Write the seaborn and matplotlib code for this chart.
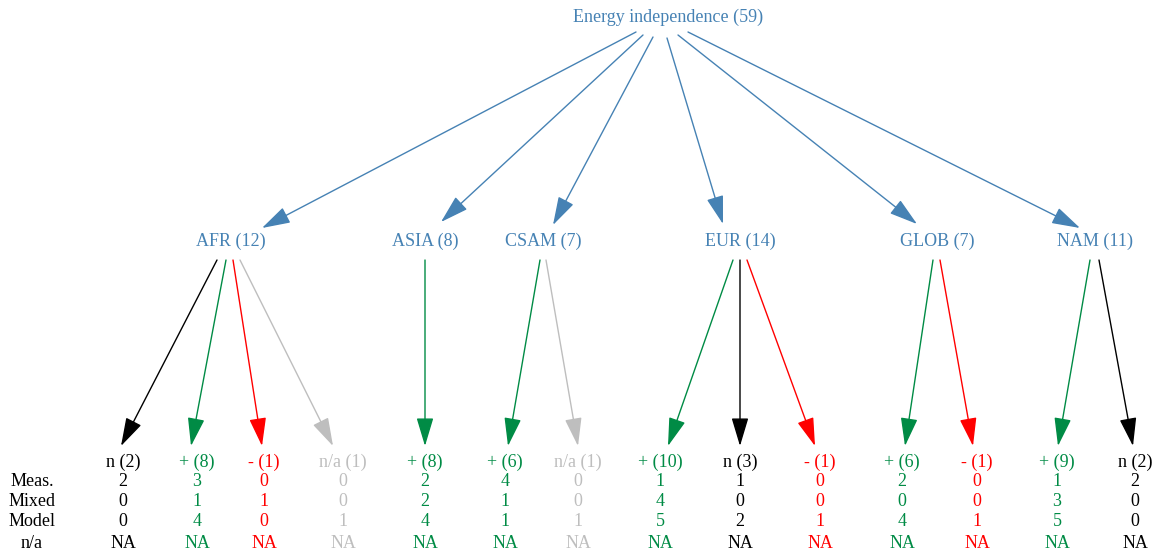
import matplotlib
matplotlib.use("Agg")
import matplotlib.pyplot as plt
import seaborn as sns
import pandas as pd

# ---------------- data ----------------
root_label = "Energy independence"
root_count = 59
regions = ["AFR", "ASIA", "CSAM", "EUR", "GLOB", "NAM"]
region_counts = [12, 8, 7, 14, 7, 11]

leaf_region = ["AFR", "AFR", "AFR", "AFR", "ASIA", "CSAM", "CSAM",
               "EUR", "EUR", "EUR", "GLOB", "GLOB", "NAM", "NAM"]
leaf_sign = ["n", "+", "-", "n/a", "+", "+", "n/a",
             "+", "n", "-", "+", "-", "+", "n"]
leaf_counts = [2, 8, 1, 1, 8, 6, 1, 10, 3, 1, 6, 1, 9, 2]
meas = [2, 3, 0, 0, 2, 4, 0, 1, 1, 0, 2, 0, 1, 2]
mixed = [0, 1, 1, 0, 2, 1, 0, 4, 0, 0, 0, 0, 3, 0]
model = [0, 4, 0, 1, 4, 1, 1, 5, 2, 1, 4, 1, 5, 0]
na_row = ["NA"] * 14
row_labels = ["Meas.", "Mixed", "Model", "n/a"]

# ---------------- layout / style ----------------
W, H = 1155, 559
root_xy = (668, 17)
region_x = [231, 425, 543, 740, 937, 1095]
region_y = 241
leaf_x = [123, 197, 264, 343, 425, 505, 578, 660, 740, 820, 902, 977, 1057, 1135]
leaf_y = 462
row_y = [481, 501, 521, 544]
row_label_x = 32

root_starts = [(636, 32), (643, 35), (653, 37), (667, 38), (678, 35), (688, 32)]
root_ends = [(262, 228), (441, 222), (553, 225), (723, 224), (917, 224), (1080, 228)]
leaf_start_x = [217, 226, 233, 240, 425, 540, 546, 733, 740, 747, 933, 940, 1090, 1099]
leaf_end_x = [121, 191, 262, 333, 425, 508, 578, 668, 740, 815, 905, 973, 1058, 1133]
leaf_start_y = 260
leaf_end_y = 446

BLUE = "#4682B4"
sign_colors = {"+": "#008B45", "-": "#FF0000", "n": "#000000", "n/a": "#BEBEBE"}

sns.set_theme(style="white")
plt.rcParams["font.family"] = ["Liberation Serif", "DejaVu Serif"]

fig = plt.figure(figsize=(W / 100, H / 100), dpi=100)
ax = fig.add_axes([0, 0, 1, 1])
ax.set_xlim(0, W)
ax.set_ylim(H, 0)
ax.set_axis_off()

FS = 13
arrow_style = "-|>,head_length=1.1,head_width=0.33"

def arrow(p0, p1, color):
    ax.annotate("", xy=p1, xytext=p0,
                arrowprops=dict(arrowstyle=arrow_style, color=color, lw=1.0,
                                mutation_scale=16, shrinkA=0, shrinkB=0))

ax.text(root_xy[0], root_xy[1], f"{root_label} ({root_count})", color=BLUE,
        fontsize=FS, ha="center", va="center")

nodes = pd.DataFrame({"region": regions, "count": region_counts, "x": region_x})
for i, r in nodes.iterrows():
    ax.text(r["x"], region_y, f"{r['region']} ({r['count']})", color=BLUE,
            fontsize=FS, ha="center", va="center")
    arrow(root_starts[i], root_ends[i], BLUE)

leaves = pd.DataFrame({"region": leaf_region, "sign": leaf_sign, "n": leaf_counts,
                       "meas": meas, "mixed": mixed, "model": model, "na": na_row,
                       "x": leaf_x})
for i, r in leaves.iterrows():
    c = sign_colors[r["sign"]]
    arrow((leaf_start_x[i], leaf_start_y), (leaf_end_x[i], leaf_end_y), c)
    ax.text(r["x"], leaf_y, f"{r['sign']} ({r['n']})", color=c, fontsize=FS,
            ha="center", va="center")
    for yy, val in zip(row_y, [r["meas"], r["mixed"], r["model"], r["na"]]):
        ax.text(r["x"], yy, str(val), color=c, fontsize=FS, ha="center", va="center")

for yy, lab in zip(row_y, row_labels):
    ax.text(row_label_x, yy, lab, color="black", fontsize=FS, ha="center", va="center")

fig.savefig("out.png", dpi=100)
